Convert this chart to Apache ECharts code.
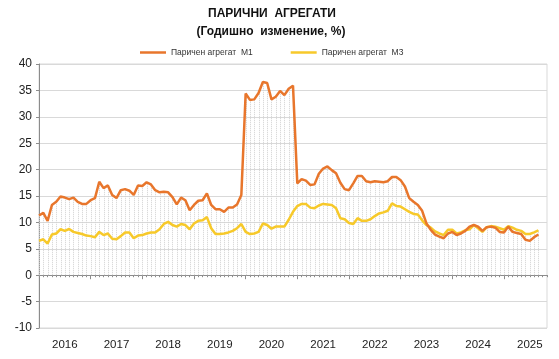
<!DOCTYPE html>
<html><head><meta charset="utf-8">
<script src="https://cdn.jsdelivr.net/npm/echarts@6/dist/echarts.min.js"></script>
<style>html,body{margin:0;padding:0;background:#fff}#c{width:559px;height:359px}</style>
</head><body><div id="c"></div>
<script>
const titleText = 'ПАРИЧНИ  АГРЕГАТИ';
const subtitleText = '(Годишно  изменение, %)';
const seriesNames = ['Паричен агрегат  М1', 'Паричен агрегат  М3'];
const startYear = 2016;
const monthCount = 119;
const yearLabels = ['2016','2017','2018','2019','2020','2021','2022','2023','2024','2025'];
const yMin = -10, yMax = 40, yStep = 5;

const m1 = [
 11.3, 11.8, 10.3, 13.3, 13.9, 14.9, 14.7, 14.4, 14.7, 13.9,
 13.5, 13.5, 14.2, 14.6, 17.7, 16.5, 17.0, 15.2, 14.6, 16.1,
 16.3, 16.0, 15.2, 17.0, 16.9, 17.6, 17.2, 16.1, 15.7, 15.8,
 15.7, 14.8, 13.4, 14.7, 14.2, 12.3, 13.3, 14.1, 14.2, 15.5,
 13.3, 12.5, 12.5, 12.0, 12.8, 12.8, 13.4, 15.2, 34.4, 33.2,
 33.3, 34.5, 36.6, 36.4, 33.3, 33.8, 34.9, 34.1, 35.3, 35.9,
 17.4, 18.2, 17.9, 17.1, 17.2, 19.2, 20.2, 20.6, 19.9, 19.3,
 17.5, 16.3, 16.1, 17.4, 18.8, 18.8, 17.8, 17.6, 17.8, 17.7,
 17.6, 17.8, 18.6, 18.6, 18.0, 16.8, 14.6, 13.9, 13.3, 12.2,
 9.8, 8.6, 7.7, 7.3, 7.0, 7.9, 8.2, 7.6, 7.9, 8.4,
 9.2, 9.5, 9.2, 8.4, 9.1, 9.2, 9.0, 8.2, 8.1, 9.2,
 8.2, 8.0, 7.8, 6.7, 6.5, 7.2, 7.7
];
const m3 = [
 6.5, 6.8, 6.0, 7.7, 7.9, 8.7, 8.4, 8.75, 8.2, 8.0,
 7.8, 7.5, 7.4, 7.2, 8.2, 7.6, 7.9, 6.9, 6.8, 7.4,
 8.1, 8.1, 7.0, 7.5, 7.6, 7.9, 8.1, 8.1, 8.7, 9.7,
 10.1, 9.5, 9.2, 9.7, 9.5, 8.7, 9.8, 10.3, 10.4, 11.0,
 8.9, 7.8, 7.8, 7.9, 8.1, 8.4, 8.9, 9.7, 8.2, 7.8,
 7.9, 8.2, 9.8, 9.5, 8.8, 9.2, 9.2, 9.2, 10.5, 12.0,
 13.1, 13.5, 13.5, 12.8, 12.7, 13.2, 13.5, 13.4, 13.3, 12.7,
 10.8, 10.6, 9.9, 9.7, 10.8, 10.3, 10.3, 10.6, 11.2, 11.7,
 11.9, 12.2, 13.6, 13.1, 13.0, 12.5, 12.0, 11.6, 11.5, 10.4,
 9.5, 9.0, 8.3, 7.9, 7.6, 8.6, 8.6, 7.9, 8.1, 8.5,
 8.7, 9.5, 8.9, 8.2, 9.1, 9.3, 9.2, 8.9, 8.6, 9.3,
 9.0, 8.6, 8.4, 7.8, 7.8, 8.1, 8.5
];

const categories = [];
for (let i = 0; i < monthCount; i++) {
  categories.push((startYear + Math.floor(i / 12)) + '-' + String(i % 12 + 1).padStart(2, '0'));
}
const dropData = m1.map((v, i) => [i, Math.max(v, m3[i])]);

const FONT = '"Liberation Sans", Arial, sans-serif';
const C1 = '#E8762C', C3 = '#F7C92A';
const chart = echarts.init(document.getElementById('c'));
chart.setOption({
  animation: false,
  backgroundColor: '#fff',
  textStyle: { fontFamily: FONT },
  graphic: [
    { type: 'text', x: 272, y: 14, style: { text: titleText, font: 'bold 12px ' + FONT, fill: '#111', textAlign: 'center', textVerticalAlign: 'middle' } },
    { type: 'text', x: 271, y: 32, style: { text: subtitleText, font: 'bold 12px ' + FONT, fill: '#111', textAlign: 'center', textVerticalAlign: 'middle' } }
  ],
  legend: {
    data: [
      { name: seriesNames[0], icon: 'rect', itemStyle: { color: C1 } },
      { name: seriesNames[1], icon: 'rect', itemStyle: { color: C3 } }
    ],
    top: 43, left: 135,
    itemWidth: 26, itemHeight: 2.5, itemGap: 38,
    textStyle: { fontSize: 8.5, color: '#333', fontFamily: FONT }
  },
  grid: { left: 39, right: 12, top: 64, bottom: 31, show: true, borderColor: '#d9d9d9', borderWidth: 1 },
  xAxis: [
    {
      type: 'category', data: categories, boundaryGap: false, position: 'bottom',
      axisLine: { onZero: true, onZeroAxisIndex: 0, lineStyle: { color: '#8c8c8c', width: 1 } },
      axisTick: { show: true, interval: 0, length: 2, lineStyle: { color: '#8c8c8c' } },
      axisLabel: { show: false }, splitLine: { show: false }
    },
    {
      type: 'category', data: categories, boundaryGap: false, position: 'bottom',
      axisLine: { show: false, onZero: false },
      axisTick: { show: false },
      axisLabel: {
        show: true, interval: (idx) => idx % 12 === 6, margin: 11,
        fontSize: 11.5, color: '#222', fontFamily: FONT,
        formatter: (val, idx) => yearLabels[Math.floor(idx / 12)] || ''
      },
      splitLine: { show: false }
    },
    {
      type: 'category', data: categories, boundaryGap: false, position: 'bottom',
      axisLine: { onZero: true, onZeroAxisIndex: 0, lineStyle: { color: '#8c8c8c', width: 1 } },
      axisTick: { show: true, interval: (idx) => idx % 12 === 0, length: 4, lineStyle: { color: '#8c8c8c' } },
      axisLabel: { show: false }, splitLine: { show: false }
    }
  ],
  yAxis: {
    type: 'value', min: yMin, max: yMax, interval: yStep,
    axisLine: { show: true, lineStyle: { color: '#8c8c8c' } },
    axisTick: { show: true, length: 3, lineStyle: { color: '#8c8c8c' } },
    axisLabel: { fontSize: 12, color: '#222', margin: 7, fontFamily: FONT },
    splitLine: { show: true, lineStyle: { color: '#d9d9d9', width: 1 } }
  },
  series: [
    {
      type: 'custom', name: 'drop', xAxisIndex: 0, data: dropData, silent: true, z: 1,
      renderItem: function (params, api) {
        const x = api.value(0), v = api.value(1);
        const p0 = api.coord([x, 0]);
        const p1 = api.coord([x, v]);
        const px = Math.round(p0[0]) + 0.5;
        return {
          type: 'line',
          shape: { x1: px, y1: p0[1], x2: px, y2: p1[1] },
          style: { stroke: '#d2d2d2', lineWidth: 1, lineDash: [1, 1] }
        };
      }
    },
    {
      type: 'line', name: seriesNames[0], data: m1, xAxisIndex: 0, symbol: 'none', z: 4,
      lineStyle: { color: C1, width: 2.5 }, itemStyle: { color: C1 }
    },
    {
      type: 'line', name: seriesNames[1], data: m3, xAxisIndex: 0, symbol: 'none', z: 3,
      lineStyle: { color: C3, width: 2.5 }, itemStyle: { color: C3 }
    }
  ]
});
</script></body></html>
